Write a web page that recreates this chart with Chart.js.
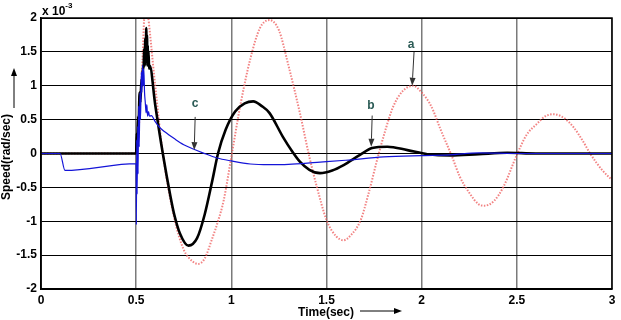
<!DOCTYPE html>
<html>
<head>
<meta charset="utf-8">
<script src="https://cdn.jsdelivr.net/npm/chart.js@4"></script>
<style>
html,body{margin:0;padding:0;background:#fff;}
canvas{display:block;}
</style>
</head>
<body>
<canvas id="c" width="621" height="320"></canvas>
<script>
// ---- data (speed in units of 1e-3 rad/sec, time in sec) ----
const xTicks = [0, 0.5, 1, 1.5, 2, 2.5, 3];
const xTickLabels = ['0', '0.5', '1', '1.5', '2', '2.5', '3'];
const yTicks = [-2, -1.5, -1, -0.5, 0, 0.5, 1, 1.5, 2];
const yTickLabels = ['-2', '-1.5', '-1', '-0.5', '0', '0.5', '1', '1.5', '2'];

// curve a (red dotted)
const redX = [0, 0.5, 0.53, 0.55, 0.56, 0.6, 0.64, 0.7, 0.75, 0.8, 0.825, 0.86, 0.9, 0.93, 0.96, 1.0,
  1.05, 1.1, 1.15, 1.2, 1.25, 1.3, 1.36, 1.41, 1.45, 1.5, 1.55, 1.59, 1.63, 1.68, 1.72, 1.77,
  1.81, 1.85, 1.9, 1.955, 2.0, 2.05, 2.1, 2.16, 2.2, 2.25, 2.3, 2.33, 2.38, 2.43, 2.5, 2.55,
  2.61, 2.65, 2.695, 2.75, 2.8, 2.85, 2.885, 2.95, 3.0];
const redY = [0, 0, 1.2, 2.3, 2.1, 1.0, 0.0, -0.95, -1.42, -1.6, -1.63, -1.55, -1.25, -1.0, -0.69, -0.05,
  0.75, 1.4, 1.85, 1.97, 1.82, 1.3, 0.6, -0.05, -0.5, -0.98, -1.22, -1.28, -1.2, -0.98, -0.6, -0.05,
  0.35, 0.69, 0.92, 1.0, 0.9, 0.7, 0.35, -0.05, -0.34, -0.58, -0.75, -0.77, -0.7, -0.49, -0.02, 0.27,
  0.45, 0.55, 0.58, 0.52, 0.38, 0.17, 0.0, -0.25, -0.39];

// curve b (black)
const blackX = [0, 0.5, 0.503, 0.506, 0.51, 0.513, 0.518, 0.522, 0.528, 0.532, 0.536, 0.539, 0.542, 0.545,
  0.548, 0.551, 0.553, 0.555, 0.557, 0.559, 0.561, 0.563, 0.565, 0.568, 0.571, 0.6, 0.64, 0.68, 0.7,
  0.73, 0.775, 0.82, 0.86, 0.9, 0.93, 0.97, 1.02, 1.07, 1.115, 1.16, 1.2, 1.27, 1.32, 1.36, 1.41,
  1.466, 1.53, 1.59, 1.676, 1.74, 1.82, 1.925, 2.03, 2.15, 2.3, 2.45, 2.6, 3.0];
const blackY = [0, 0, 0.3, 0.2, 0.55, 0.45, 0.9, 0.75, 1.1, 1.0, 1.3, 1.25, 1.55, 1.3, 1.7,
  1.4, 1.85, 1.45, 1.75, 1.3, 1.6, 1.3, 1.5, 1.25, 1.3, 0.72, 0.0, -0.63, -0.9,
  -1.18, -1.36, -1.25, -0.9, -0.4, 0.0, 0.35, 0.62, 0.74, 0.77, 0.7, 0.6, 0.25, 0.03, -0.12, -0.24,
  -0.29, -0.25, -0.17, -0.02, 0.08, 0.10, 0.05, -0.01, -0.03, -0.01, 0.01, 0.0, 0.0];

// curve c (blue)
const blueX = [0, 0.1, 0.126, 0.5, 0.501, 0.503, 0.505, 0.508, 0.51, 0.513, 0.516, 0.52, 0.523, 0.527,
  0.53, 0.534, 0.537, 0.54, 0.544, 0.548, 0.552, 0.556, 0.56, 0.565, 0.57, 0.58, 0.6, 0.625, 0.65,
  0.7, 0.75, 0.8, 0.85, 0.925, 1.0, 1.1, 1.2, 1.3, 1.45, 1.6, 1.8, 2.0, 2.15, 2.3, 2.5, 3.0];
const blueY = [0, 0, -0.25, -0.15, -1.05, 0.2, -0.6, 0.4, -0.3, 0.7, 0.1, 0.9, 0.5, 1.2,
  0.9, 1.3, 1.0, 1.25, 0.9, 0.75, 0.6, 0.72, 0.55, 0.62, 0.55, 0.56, 0.47, 0.38, 0.32,
  0.22, 0.13, 0.066, 0.01, -0.066, -0.11, -0.155, -0.165, -0.16, -0.13, -0.1, -0.05, -0.03, -0.02, 0.01, 0.0, 0.0];

// annotations (data coordinates)
const annText = ['a', 'b', 'c'];
const annTextX = [1.944, 1.734, 0.81];
const annTextY = [1.60, 0.70, 0.73];
const annFromX = [1.96, 1.74, 0.81];
const annFromY = [1.50, 0.56, 0.54];
const annToX = [1.95, 1.735, 0.805];
const annToY = [1.00, 0.10, 0.05];

function pts(xs, ys) { return xs.map((x, i) => ({x: x, y: ys[i]})); }

const FONT = '"Liberation Sans", Arial, sans-serif';

function arrow(ctx, x1, y1, x2, y2, color, head) {
  ctx.save();
  ctx.strokeStyle = color; ctx.fillStyle = color; ctx.lineWidth = 1;
  const a = Math.atan2(y2 - y1, x2 - x1);
  const hx = x2 - head * Math.cos(a), hy = y2 - head * Math.sin(a);
  ctx.beginPath(); ctx.moveTo(x1, y1); ctx.lineTo(hx, hy); ctx.stroke();
  ctx.beginPath();
  ctx.moveTo(x2, y2);
  ctx.lineTo(hx + 3 * Math.sin(a), hy - 3 * Math.cos(a));
  ctx.lineTo(hx - 3 * Math.sin(a), hy + 3 * Math.cos(a));
  ctx.closePath(); ctx.fill();
  ctx.restore();
}

const overlay = {
  id: 'overlay',
  afterDraw(chart) {
    const ctx = chart.ctx, a = chart.chartArea;
    const sx = chart.scales.x, sy = chart.scales.y;
    ctx.save();
    // frame
    ctx.strokeStyle = '#000'; ctx.lineWidth = 1.5;
    ctx.strokeRect(a.left, a.top, a.right - a.left, a.bottom - a.top);
    // exponent label
    ctx.fillStyle = '#000';
    ctx.font = 'bold 12px ' + FONT;
    ctx.textBaseline = 'alphabetic'; ctx.textAlign = 'left';
    ctx.fillText('x 10', a.left + 1, a.top - 3);
    const w = ctx.measureText('x 10').width;
    ctx.font = 'bold 8px ' + FONT;
    ctx.fillText('-3', a.left + 1 + w, a.top - 10);
    // axis titles
    ctx.font = 'bold 12px ' + FONT;
    ctx.textAlign = 'center'; ctx.textBaseline = 'middle';
    ctx.fillText('Time(sec)', 326, 313);
    arrow(ctx, 360, 311, 402, 311, '#000', 8);
    ctx.save();
    ctx.translate(7, 157); ctx.rotate(-Math.PI / 2);
    ctx.fillText('Speed(rad/sec)', 0, 0);
    ctx.restore();
    arrow(ctx, 14, 108, 14, 68, '#000', 8);
    // annotations
    ctx.font = 'bold 12px ' + FONT;
    for (let i = 0; i < annText.length; i++) {
      ctx.fillStyle = '#2b5b55';
      ctx.fillText(annText[i], sx.getPixelForValue(annTextX[i]), sy.getPixelForValue(annTextY[i]));
      arrow(ctx, sx.getPixelForValue(annFromX[i]), sy.getPixelForValue(annFromY[i]),
        sx.getPixelForValue(annToX[i]), sy.getPixelForValue(annToY[i]), '#333', 8);
    }
    ctx.restore();
  }
};

new Chart(document.getElementById('c'), {
  type: 'scatter',
  data: {
    datasets: [
      { label: 'c', data: pts(blueX, blueY), showLine: true, borderColor: '#1414d8', borderWidth: 1.2,
        pointRadius: 0, cubicInterpolationMode: 'monotone', order: 0 },
      { label: 'b', data: pts(blackX, blackY), showLine: true, borderColor: '#000', borderWidth: 2.6,
        pointRadius: 0, cubicInterpolationMode: 'monotone', order: 1 },
      { label: 'a', data: pts(redX, redY), showLine: true, borderColor: 'rgba(238,90,90,0.75)', borderWidth: 2,
        borderDash: [1.5, 1.5], pointRadius: 0, cubicInterpolationMode: 'monotone', order: 2 }
    ]
  },
  options: {
    responsive: false, animation: false, devicePixelRatio: 1,
    layout: { padding: { top: 18, right: 9, left: 0, bottom: 0 } },
    plugins: { legend: { display: false }, tooltip: { enabled: false } },
    scales: {
      x: {
        type: 'linear', min: 0, max: 3,
        afterBuildTicks(s) { s.ticks = xTicks.map(v => ({value: v})); },
        afterFit(s) { s.height = 31; },
        ticks: { callback: (v) => xTickLabels[xTicks.indexOf(v)], color: '#000',
          font: { family: FONT, size: 12, weight: 'bold' }, padding: 4, maxRotation: 0 },
        grid: { color: '#7a7a7a', lineWidth: 1.5, drawTicks: false },
        border: { color: '#000', width: 1.5 }
      },
      y: {
        type: 'linear', min: -2, max: 2,
        afterBuildTicks(s) { s.ticks = yTicks.map(v => ({value: v})); },
        afterFit(s) { s.width = 41; },
        ticks: { callback: (v) => yTickLabels[yTicks.indexOf(v)], color: '#000',
          font: { family: FONT, size: 12, weight: 'bold' }, padding: 4 },
        grid: { color: '#000', lineWidth: 1, drawTicks: false },
        border: { color: '#000', width: 1.5 }
      }
    }
  },
  plugins: [overlay]
});
</script>
</body>
</html>
